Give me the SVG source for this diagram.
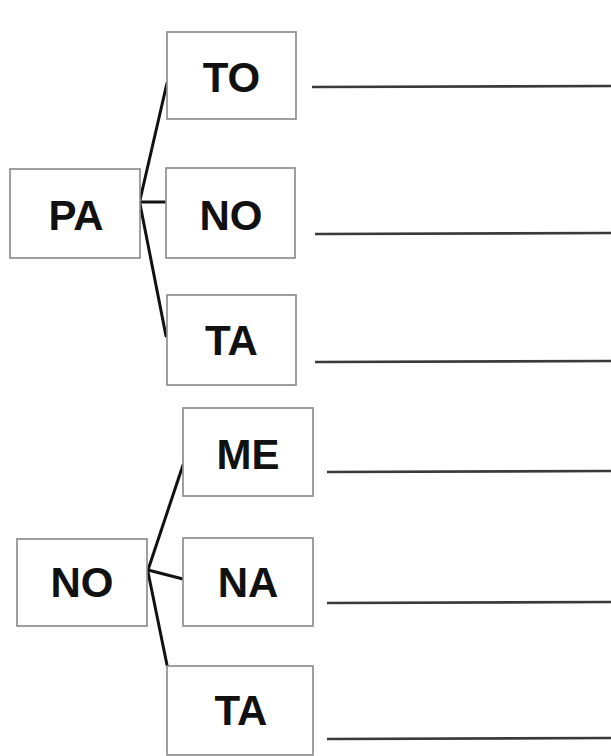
<svg xmlns="http://www.w3.org/2000/svg" width="611" height="756" viewBox="0 0 611 756">
<style>
.box{fill:#fff;stroke:#8f8f8f;stroke-width:1.7}
.lbl{font-family:"Liberation Sans",Arial,sans-serif;font-weight:bold;font-size:42px;fill:#111;text-anchor:middle}
.con{stroke:#111;stroke-width:3;fill:none;stroke-linecap:round}
.ans{stroke:#3a3a3a;stroke-width:2.6}
</style>
<rect width="611" height="756" fill="#fff"/>
<g id="connectors">
<path class="con" d="M140,200 L167,83"/>
<path class="con" d="M141,202 L166,202"/>
<path class="con" d="M140,204 L166,336"/>
<path class="con" d="M148,570 L183,465"/>
<path class="con" d="M148,570 L183,579"/>
<path class="con" d="M148,572 L167,665"/>
</g>
<g id="answer-lines">
<line class="ans" x1="312" y1="87" x2="611" y2="86"/>
<line class="ans" x1="315" y1="234" x2="611" y2="233"/>
<line class="ans" x1="315" y1="362" x2="611" y2="361"/>
<line class="ans" x1="327" y1="472" x2="611" y2="471"/>
<line class="ans" x1="327" y1="603" x2="611" y2="602"/>
<line class="ans" x1="327" y1="739" x2="611" y2="738"/>
</g>
<g id="node-PA"><rect class="box" x="10" y="169" width="130" height="89"/><text class="lbl" x="76" y="230">PA</text></g>
<g id="node-TO"><rect class="box" x="167" y="32" width="129" height="87"/><text class="lbl" x="231.5" y="92">TO</text></g>
<g id="node-NO1"><rect class="box" x="166" y="168" width="129" height="90"/><text class="lbl" x="231" y="230">NO</text></g>
<g id="node-TA1"><rect class="box" x="167" y="295" width="129" height="90"/><text class="lbl" x="231.5" y="355">TA</text></g>
<g id="node-NO2"><rect class="box" x="17" y="539" width="130" height="87"/><text class="lbl" x="82" y="597">NO</text></g>
<g id="node-ME"><rect class="box" x="183" y="408" width="130" height="88"/><text class="lbl" x="248" y="469">ME</text></g>
<g id="node-NA"><rect class="box" x="183" y="538" width="130" height="88"/><text class="lbl" x="248" y="597">NA</text></g>
<g id="node-TA2"><rect class="box" x="167" y="666" width="146" height="89"/><text class="lbl" x="241" y="725">TA</text></g>
</svg>
